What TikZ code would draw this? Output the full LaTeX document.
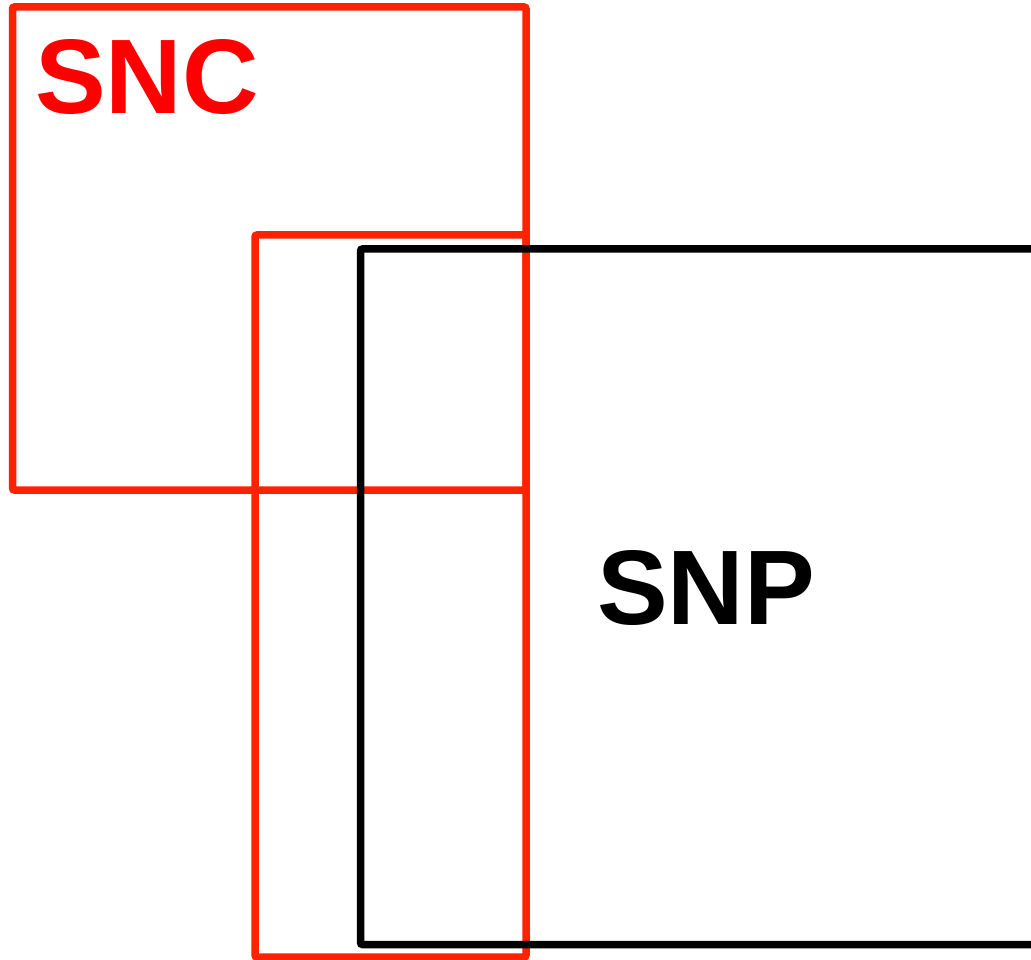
\documentclass[tikz,border=0pt]{standalone}
\usepackage{fontspec}
\setmainfont{Liberation Sans}
\usetikzlibrary{positioning}
\definecolor{FrameRed}{RGB}{255,34,0}
\definecolor{LabelRed}{RGB}{255,0,0}

\begin{document}
\begin{tikzpicture}[x=1pt,y=-1pt]
				
				% page size, anything past it is cut off
				\clip (0,0) rectangle (1031,960);
				
				\node[
				draw=FrameRed,
				line width=7.5pt,
				rounded corners=2pt,
				inner sep=0pt,
				minimum width=513.5pt,
				minimum height=483pt
				]
				(SNC)
				at (269.25,248.5)
				{};
				
				\node[
				draw=FrameRed,
				line width=7.5pt,
				rounded corners=2pt,
				inner sep=0pt,
				minimum width=271pt,
				minimum height=722pt
				]
				(C)
				at (390.5,596)
				{};
				
				\node[
				draw=black,
				line width=7.5pt,
				rounded corners=2pt,
				inner sep=0pt,
				minimum width=800pt,
				minimum height=695.5pt
				]
				(SNP)
				at (760.5,596.75)
				{};
				
				\node[
				text=LabelRed,
				font=\fontsize{106}{124}\selectfont\bfseries,
				inner sep=0pt
				]
				(SNCl)
				at (147,77.5)
				{SNC};
				
				\node[
				text=black,
				font=\fontsize{106}{124}\selectfont\bfseries,
				inner sep=0pt
				]
				(SNPl)
				at (706,588)
				{SNP};
				
			\end{tikzpicture}
\end{document}
